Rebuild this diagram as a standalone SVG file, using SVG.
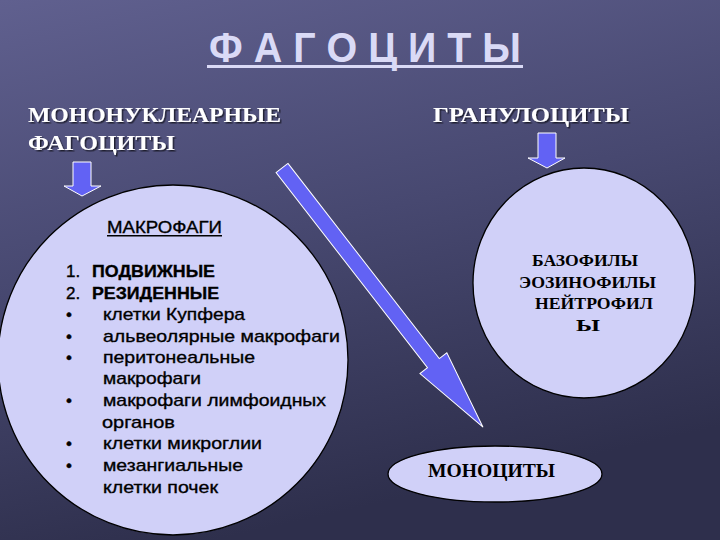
<svg xmlns="http://www.w3.org/2000/svg" width="720" height="540" viewBox="0 0 720 540">
<defs>
<linearGradient id="bg" x1="0" y1="0" x2="0.3" y2="1">
<stop offset="0" stop-color="#60608f"/>
<stop offset="0.5" stop-color="#474870"/>
<stop offset="1" stop-color="#2e2f4c"/>
</linearGradient>
<filter id="sh" x="-5%" y="-20%" width="110%" height="150%">
<feDropShadow dx="1.5" dy="1.5" stdDeviation="0.6" flood-color="#000" flood-opacity="0.6"/>
</filter>
</defs>
<style>
.bubble{fill:#d0d0f8;stroke:#000;stroke-width:1.3}
.arr{fill:#6262f4;stroke:#ffffff;stroke-width:1}
.head{font-family:"Liberation Serif","Times New Roman",serif;font-weight:bold;font-size:21px;fill:#ffffff}
.ser{font-family:"Liberation Serif","Times New Roman",serif;font-weight:bold;fill:#000}
.san{font-family:"Liberation Sans",Arial,sans-serif;font-size:17px;fill:#000;stroke:#000;stroke-width:0.35}
</style>
<rect width="720" height="540" fill="url(#bg)"/>

<g id="title">
<text x="209" y="62" font-family="Liberation Sans, Arial, sans-serif" font-weight="bold" font-size="42" fill="#dadaf6" textLength="312" lengthAdjust="spacingAndGlyphs">Ф А Г О Ц И Т Ы</text>
<rect x="207" y="65" width="316" height="3" fill="#dadaf6"/>
</g>

<g id="mononuclear" filter="url(#sh)">
<text class="head" x="28" y="122" textLength="253" lengthAdjust="spacingAndGlyphs">МОНОНУКЛЕАРНЫЕ</text>
<text class="head" x="28" y="150" textLength="147" lengthAdjust="spacingAndGlyphs">ФАГОЦИТЫ</text>
</g>

<g id="granulocytes" filter="url(#sh)">
<text class="head" x="433" y="122" textLength="196" lengthAdjust="spacingAndGlyphs">ГРАНУЛОЦИТЫ</text>
</g>

<g id="macrophages">
<circle class="bubble" cx="173" cy="360" r="175"/>
<text class="san" x="107" y="233" textLength="115" lengthAdjust="spacingAndGlyphs">МАКРОФАГИ</text>
<rect x="107" y="235" width="115" height="1.5" fill="#000"/>
<text class="san" x="66" y="277">1.</text>
<text class="san" x="92" y="277" font-weight="bold" textLength="123" lengthAdjust="spacingAndGlyphs">ПОДВИЖНЫЕ</text>
<text class="san" x="66" y="299">2.</text>
<text class="san" x="92" y="299" font-weight="bold" textLength="127" lengthAdjust="spacingAndGlyphs">РЕЗИДЕННЫЕ</text>
<text class="san" x="66" y="320">•</text>
<text class="san" x="103" y="320" textLength="142" lengthAdjust="spacingAndGlyphs">клетки Купфера</text>
<text class="san" x="66" y="342">•</text>
<text class="san" x="103" y="342" textLength="237" lengthAdjust="spacingAndGlyphs">альвеолярные макрофаги</text>
<text class="san" x="66" y="363">•</text>
<text class="san" x="103" y="363" textLength="152" lengthAdjust="spacingAndGlyphs">перитонеальные</text>
<text class="san" x="103" y="384" textLength="98" lengthAdjust="spacingAndGlyphs">макрофаги</text>
<text class="san" x="66" y="406">•</text>
<text class="san" x="103" y="406" textLength="223" lengthAdjust="spacingAndGlyphs">макрофаги лимфоидных</text>
<text class="san" x="102" y="428" textLength="73" lengthAdjust="spacingAndGlyphs">органов</text>
<text class="san" x="66" y="449">•</text>
<text class="san" x="103" y="449" textLength="159" lengthAdjust="spacingAndGlyphs">клетки микроглии</text>
<text class="san" x="66" y="471">•</text>
<text class="san" x="103" y="471" textLength="140" lengthAdjust="spacingAndGlyphs">мезангиальные</text>
<text class="san" x="103" y="493" textLength="115" lengthAdjust="spacingAndGlyphs">клетки почек</text>
</g>

<g id="granulocyte-types">
<ellipse class="bubble" cx="584" cy="283" rx="111" ry="115"/>
<text class="ser" font-size="17" x="532" y="266" textLength="106" lengthAdjust="spacingAndGlyphs">БАЗОФИЛЫ</text>
<text class="ser" font-size="17" x="519" y="288" textLength="137" lengthAdjust="spacingAndGlyphs">ЭОЗИНОФИЛЫ</text>
<text class="ser" font-size="17" x="535" y="309" textLength="118" lengthAdjust="spacingAndGlyphs">НЕЙТРОФИЛ</text>
<text class="ser" font-size="17" x="576" y="331" textLength="24" lengthAdjust="spacingAndGlyphs">Ы</text>
</g>

<g id="monocytes">
<ellipse class="bubble" cx="495" cy="474" rx="107" ry="28"/>
<text class="ser" font-size="19" x="428" y="477" textLength="127" lengthAdjust="spacingAndGlyphs">МОНОЦИТЫ</text>
</g>

<g id="connectors">
<polygon class="arr" points="73,162 91,162 91,186 101,186 82,196 64,186 73,186"/>
<polygon class="arr" points="538,133 556,133 556,158 565,158 547,168 528,158 538,158"/>
<polygon class="arr" transform="translate(282,168) rotate(52.2)" points="0,-7.5 247,-7.5 247,-17 328,0 247,17 247,7.5 0,7.5"/>
</g>
</svg>
